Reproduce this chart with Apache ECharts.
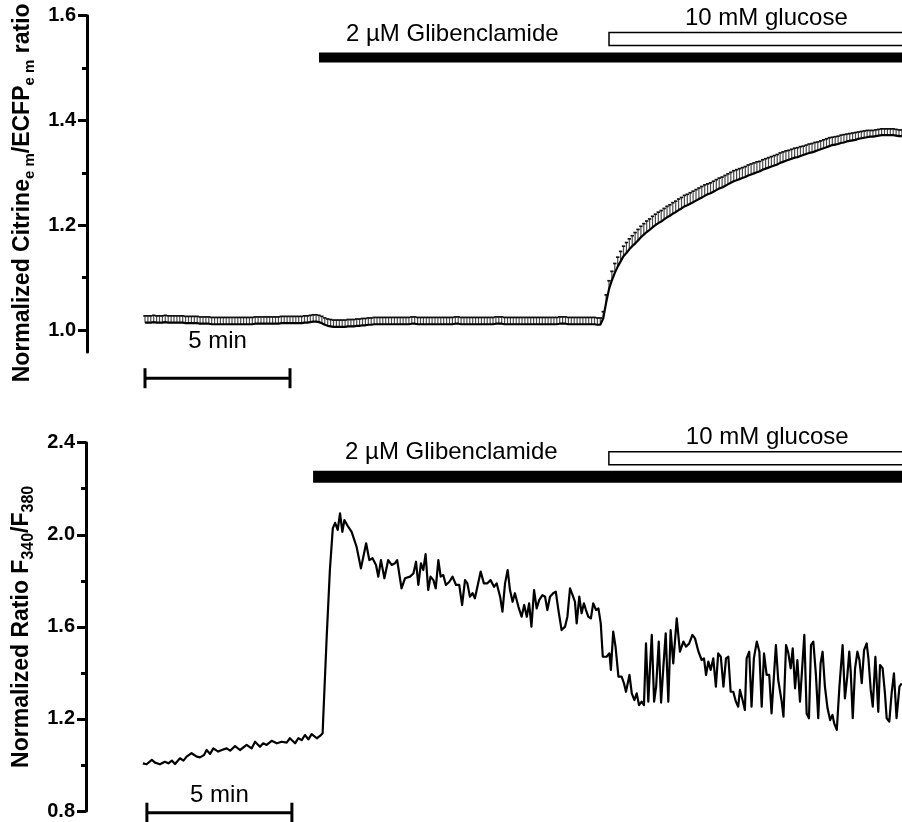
<!DOCTYPE html>
<html>
<head>
<meta charset="utf-8">
<title>Citrine/ECFP and Fura-2 ratio recordings</title>
<script src="https://cdn.jsdelivr.net/npm/echarts@6/dist/echarts.min.js"></script>
<style>
  html, body { margin: 0; padding: 0; background: #fff; }
  #chart { width: 902px; height: 822px; }
</style>
</head>
<body>
<div id="chart"></div>
<script>
// ---------------------------------------------------------------------------
// Data
// ---------------------------------------------------------------------------

// Citrine/ECFP emission ratio, mean of cells, one sample every 0.1 min from t = 0
const SAMPLE_STEP_MIN = 0.1;
const citrineMean = [
  1.014,1.014,1.014,1.015,1.014,1.014,1.014,1.015,1.014,1.014,
  1.014,1.014,1.014,1.014,1.013,1.013,1.013,1.013,1.013,1.012,
  1.012,1.012,1.012,1.011,1.011,1.011,1.011,1.011,1.011,1.011,
  1.011,1.011,1.011,1.011,1.011,1.011,1.011,1.011,1.012,1.012,
  1.012,1.012,1.012,1.012,1.012,1.012,1.012,1.013,1.013,1.013,
  1.013,1.013,1.013,1.013,1.013,1.014,1.014,1.015,1.016,1.016,
  1.015,1.013,1.010,1.008,1.007,1.006,1.006,1.006,1.006,1.006,
  1.007,1.007,1.007,1.008,1.008,1.009,1.009,1.010,1.010,1.011,
  1.011,1.011,1.011,1.011,1.011,1.011,1.011,1.011,1.011,1.011,
  1.011,1.011,1.012,1.012,1.011,1.011,1.011,1.011,1.011,1.011,
  1.011,1.011,1.011,1.011,1.011,1.011,1.011,1.012,1.012,1.011,
  1.011,1.011,1.011,1.011,1.011,1.011,1.011,1.011,1.011,1.011,
  1.011,1.012,1.012,1.012,1.011,1.011,1.011,1.011,1.011,1.011,
  1.011,1.011,1.011,1.011,1.011,1.011,1.011,1.011,1.011,1.011,
  1.011,1.011,1.011,1.012,1.012,1.012,1.011,1.011,1.011,1.011,
  1.011,1.011,1.011,1.011,1.011,1.011,1.010,1.010,1.022,1.052,
  1.078,1.095,1.109,1.121,1.131,1.141,1.147,1.154,1.160,1.165,
  1.171,1.177,1.182,1.187,1.191,1.196,1.200,1.204,1.207,1.211,
  1.215,1.218,1.222,1.225,1.229,1.232,1.236,1.238,1.241,1.244,
  1.247,1.250,1.253,1.256,1.259,1.261,1.264,1.267,1.270,1.272,
  1.275,1.278,1.281,1.284,1.286,1.288,1.290,1.292,1.295,1.297,
  1.299,1.301,1.303,1.306,1.308,1.310,1.312,1.314,1.316,1.319,
  1.321,1.323,1.325,1.327,1.329,1.330,1.332,1.334,1.336,1.338,
  1.339,1.341,1.343,1.345,1.347,1.349,1.351,1.353,1.354,1.355,
  1.357,1.358,1.360,1.361,1.362,1.363,1.365,1.366,1.367,1.368,
  1.369,1.369,1.370,1.371,1.372,1.372,1.372,1.372,1.372,1.371,
  1.370,1.370
];

// SEM of the Citrine/ECFP ratio (plotted upward only)
const citrineSem = [
  0.013,0.013,0.013,0.013,0.013,0.013,0.013,0.013,0.013,0.013,
  0.013,0.013,0.013,0.013,0.013,0.013,0.013,0.013,0.013,0.013,
  0.013,0.013,0.013,0.013,0.013,0.013,0.013,0.013,0.013,0.013,
  0.013,0.013,0.013,0.013,0.013,0.013,0.013,0.013,0.013,0.013,
  0.013,0.013,0.013,0.013,0.013,0.013,0.013,0.013,0.013,0.013,
  0.013,0.013,0.013,0.013,0.013,0.013,0.013,0.013,0.013,0.013,
  0.013,0.013,0.013,0.013,0.013,0.013,0.013,0.013,0.013,0.013,
  0.013,0.013,0.013,0.013,0.013,0.013,0.013,0.013,0.013,0.013,
  0.013,0.013,0.013,0.013,0.013,0.013,0.013,0.013,0.013,0.013,
  0.013,0.013,0.013,0.013,0.013,0.013,0.013,0.013,0.013,0.013,
  0.013,0.013,0.013,0.013,0.013,0.013,0.013,0.013,0.013,0.013,
  0.013,0.013,0.013,0.013,0.013,0.013,0.013,0.013,0.013,0.013,
  0.013,0.013,0.013,0.013,0.013,0.013,0.013,0.013,0.013,0.013,
  0.013,0.013,0.013,0.013,0.013,0.013,0.013,0.013,0.013,0.013,
  0.013,0.013,0.013,0.013,0.013,0.013,0.013,0.013,0.013,0.013,
  0.013,0.013,0.013,0.013,0.013,0.013,0.013,0.013,0.013,0.015,
  0.016,0.017,0.018,0.018,0.019,0.019,0.020,0.020,0.020,0.021,
  0.021,0.021,0.021,0.021,0.021,0.021,0.021,0.021,0.021,0.021,
  0.021,0.021,0.021,0.021,0.021,0.021,0.021,0.021,0.021,0.021,
  0.021,0.021,0.021,0.021,0.020,0.020,0.020,0.020,0.020,0.020,
  0.020,0.020,0.020,0.020,0.020,0.020,0.020,0.020,0.020,0.020,
  0.020,0.020,0.019,0.019,0.019,0.019,0.019,0.019,0.019,0.019,
  0.019,0.019,0.018,0.018,0.018,0.018,0.018,0.017,0.017,0.017,
  0.017,0.017,0.016,0.016,0.016,0.016,0.016,0.015,0.015,0.015,
  0.015,0.015,0.014,0.014,0.014,0.014,0.013,0.013,0.013,0.013,
  0.012,0.012,0.012,0.012,0.012,0.012,0.012,0.012,0.012,0.012,
  0.012,0.012
];

// Fura-2 F340/F380 ratio of a single cell: time (min) and ratio
const furaTimeMin = [
  -0.14,-0.01,0.17,0.28,0.45,0.62,0.74,0.86,0.97,1.14,1.26,1.37,1.54,1.72,1.83,1.97,
  2.06,2.18,2.29,2.46,2.58,2.75,2.87,3.04,3.21,3.44,3.61,3.73,3.90,4.01,4.13,4.30,
  4.48,4.65,4.82,4.93,5.11,5.22,5.34,5.45,5.57,5.68,5.86,5.97,6.06,
  6.08,6.20,6.31,6.41,6.49,6.58,6.66,6.74,6.81,6.94,7.06,7.23,7.38,7.56,7.67,7.78,
  7.90,7.98,8.07,8.19,8.32,8.44,8.55,8.63,8.78,8.90,9.07,9.19,9.28,9.36,9.45,9.53,
  9.61,9.70,9.78,9.88,9.96,10.05,10.13,10.22,10.31,10.43,10.54,10.66,10.77,10.87,10.97,11.05,
  11.14,11.23,11.31,11.41,11.51,11.62,11.74,11.85,11.97,12.06,12.18,12.26,12.35,12.44,12.52,12.61,
  12.69,12.81,12.92,13.01,13.10,13.18,13.26,13.35,13.44,13.53,13.64,13.73,13.81,13.90,14.01,14.10,
  14.19,14.30,14.42,14.50,14.59,14.68,14.76,14.82,14.91,14.99,15.07,15.14,15.22,15.31,15.39,15.49,
  15.57,15.65,
  15.72,15.85,15.95,16.00,16.08,16.16,16.26,16.37,16.45,16.52,16.64,16.72,16.81,16.89,16.97,17.06,
  17.14,17.21,17.29,17.35,17.41,17.49,17.56,17.65,17.73,17.81,17.89,17.98,18.06,18.15,18.27,18.38,
  18.44,18.50,18.59,18.70,18.81,18.90,19.02,19.13,19.21,19.28,19.36,19.44,19.53,19.62,19.70,19.79,
  19.88,19.97,20.05,20.13,20.22,20.31,20.39,20.45,20.54,20.62,20.68,20.77,20.85,20.93,21.03,21.12,
  21.20,21.28,21.37,21.46,21.54,21.69,21.77,21.89,21.95,22.04,22.12,22.20,22.27,22.35,22.43,22.52,
  22.58,22.67,22.75,22.83,22.90,22.98,23.07,23.15,23.23,23.30,23.38,23.47,23.56,23.64,23.70,23.79,
  23.88,23.99,24.07,24.15,24.22,24.27,24.34,24.42,24.50,24.57,24.65,24.73,24.82,24.88,24.96,25.03,
  25.12,25.22,25.28,25.37,25.45,25.51,25.60,25.68,25.76,25.85,25.95,26.03
];
const furaRatio = [
  1.007,1.003,1.022,1.010,1.003,1.014,1.007,1.019,1.004,1.029,1.019,1.036,1.051,1.036,1.033,1.043,
  1.065,1.048,1.072,1.058,1.065,1.072,1.062,1.082,1.065,1.087,1.072,1.101,1.079,1.094,1.087,1.105,
  1.094,1.101,1.097,1.116,1.094,1.116,1.108,1.130,1.111,1.134,1.116,1.126,1.138,
  1.203,1.557,1.847,2.028,2.052,2.021,2.093,2.013,2.064,2.035,2.013,1.948,1.854,1.963,1.890,1.898,
  1.869,1.818,1.890,1.811,1.890,1.869,1.876,1.890,1.767,1.811,1.818,1.832,1.883,1.782,1.876,1.847,
  1.916,1.760,1.818,1.803,1.767,1.890,1.818,1.825,1.782,1.796,1.818,1.782,1.782,1.695,1.803,1.789,
  1.731,1.746,1.724,1.782,1.840,1.789,1.789,1.803,1.774,1.789,1.731,1.666,1.789,1.847,1.760,1.709,
  1.746,1.688,1.644,1.695,1.644,1.702,1.601,1.760,1.680,1.717,1.738,1.731,1.673,1.731,1.746,1.753,
  1.673,1.586,1.601,1.644,1.767,1.738,1.709,1.615,1.731,1.659,1.702,1.673,1.644,1.637,1.702,1.673,
  1.680,1.615,
  1.470,1.470,1.485,1.413,1.579,1.514,1.384,1.384,1.355,1.318,1.391,1.311,1.282,1.311,1.260,1.275,
  1.260,1.528,1.275,1.427,1.565,1.275,1.340,1.536,1.271,1.427,1.572,1.275,1.586,1.441,1.637,1.492,
  1.499,1.536,1.514,1.528,1.565,1.550,1.492,1.456,1.463,1.391,1.449,1.413,1.463,1.340,1.485,1.470,
  1.340,1.463,1.470,1.318,1.318,1.275,1.253,1.326,1.282,1.239,1.463,1.492,1.253,1.463,1.536,1.492,
  1.253,1.485,1.391,1.391,1.224,1.521,1.369,1.275,1.210,1.521,1.485,1.420,1.507,1.333,1.456,1.275,
  1.275,1.565,1.224,1.203,1.521,1.536,1.391,1.203,1.441,1.492,1.340,1.246,1.195,1.217,1.181,1.152,
  1.340,1.521,1.289,1.384,1.492,1.405,1.203,1.420,1.492,1.456,1.355,1.499,1.528,1.463,1.326,1.253,
  1.470,1.231,1.434,1.420,1.311,1.203,1.188,1.311,1.398,1.203,1.340,1.355
];

// Treatments (applied until the end of the recording)
const treatmentLabels = ['2 \u00b5M Glibenclamide', '10 mM glucose'];
const citrineTreatmentStartMin = [6.0, 16.0];
const furaTreatmentStartMin = [5.73, 15.93];

// Time scale bar length (min)
const scaleBarMin = 5;

// Y axis ticks
const citrineMajorTicks = [1.0, 1.2, 1.4, 1.6];
const citrineMinorTicks = [1.1, 1.3, 1.5];
const furaMajorTicks = [0.8, 1.2, 1.6, 2.0, 2.4];
const furaMinorTicks = [1.0, 1.4, 1.8, 2.2];

// ---------------------------------------------------------------------------
// Chart
// ---------------------------------------------------------------------------
const FONT = '"Liberation Sans", Arial, Helvetica, sans-serif';
const chart = echarts.init(document.getElementById('chart'), null, { renderer: 'canvas' });

const citrineRows = citrineMean.map((m, i) => [+(i * SAMPLE_STEP_MIN).toFixed(2), m, citrineSem[i]]);
const furaRows = furaTimeMin.map((t, i) => [t, furaRatio[i]]);

function mainYAxis(gridIndex, min, max, ticks, name, rich, nameGap, namePadding) {
  return {
    type: 'value', gridIndex, position: 'left', offset: 0,
    min, max,
    axisLine: { show: true, onZero: false, lineStyle: { color: '#000', width: 3 } },
    axisTick: { show: true, inside: false, length: 9, customValues: ticks,
                lineStyle: { color: '#000', width: 3 } },
    axisLabel: { show: true, customValues: ticks, margin: 11,
                 formatter: v => v.toFixed(1),
                 color: '#000', fontFamily: FONT, fontWeight: 'bold', fontSize: 20 },
    splitLine: { show: false },
    name, nameLocation: 'middle', nameRotate: 90, nameGap,
    nameTextStyle: { rich, padding: namePadding }
  };
}
function minorYAxis(gridIndex, min, max, ticks) {
  return {
    type: 'value', gridIndex, position: 'left', offset: 0,
    min, max,
    axisLine: { show: false, onZero: false },
    axisTick: { show: true, length: 5, customValues: ticks,
                lineStyle: { color: '#000', width: 3 } },
    axisLabel: { show: false },
    splitLine: { show: false }
  };
}

const titleRich = (mainSize, subSize) => ({
  m: { fontFamily: FONT, fontWeight: 'bold', fontSize: mainSize, color: '#000', lineHeight: 30 },
  s: { fontFamily: FONT, fontWeight: 'bold', fontSize: subSize, color: '#000', lineHeight: 30,
       verticalAlign: 'bottom' }
});

// Upward SEM bars with a short cap
function semBarRender(params, api) {
  const t = api.value(0), m = api.value(1), e = api.value(2);
  const base = api.coord([t, m]);
  const tip = api.coord([t, m + e]);
  return {
    type: 'group',
    children: [
      { type: 'line', shape: { x1: base[0], y1: base[1], x2: tip[0], y2: tip[1] },
        style: { stroke: '#4a4a4a', lineWidth: 1.2 } },
      { type: 'line', shape: { x1: tip[0] - 1.7, y1: tip[1], x2: tip[0] + 1.7, y2: tip[1] },
        style: { stroke: '#111', lineWidth: 1.7 } }
    ]
  };
}

// Treatment bars: solid for glibenclamide, open for glucose
function treatmentSeries(axisIndex, yAxisIndex, starts, layout) {
  return {
    type: 'custom', xAxisIndex: axisIndex, yAxisIndex, clip: false, silent: true, z: 5,
    data: starts.map((s, i) => [s, i]),
    encode: { x: 0 },
    renderItem(params, api) {
      const i = params.dataIndex;
      const spec = layout[i];
      const cs = params.coordSys;
      const p = api.coord([api.value(0), spec.y]);
      const right = cs.x + cs.width + 20;
      const top = p[1] - spec.h / 2;
      const rect = {
        type: 'rect',
        shape: { x: p[0], y: top, width: right - p[0], height: spec.h },
        style: spec.open ? { fill: '#fff', stroke: '#000', lineWidth: 1.5 } : { fill: '#000' }
      };
      const label = {
        type: 'text',
        style: {
          text: treatmentLabels[i], x: p[0] + spec.dx, y: top - spec.gap - 8,
          fontFamily: FONT, fontSize: 24, fill: '#000',
          align: 'left', verticalAlign: 'middle'
        }
      };
      return { type: 'group', children: [rect, label] };
    }
  };
}

// Time scale bar with end caps and label
function scaleBarSeries(axisIndex, yAxisIndex, yValue, textGap) {
  return {
    type: 'custom', xAxisIndex: axisIndex, yAxisIndex, clip: false, silent: true, z: 5,
    data: [[0, scaleBarMin]],
    encode: { x: 0 },
    renderItem(params, api) {
      const a = api.coord([api.value(0), yValue]);
      const b = api.coord([api.value(0) + api.value(1), yValue]);
      const capStyle = { stroke: '#000', lineWidth: 3 };
      return {
        type: 'group',
        children: [
          { type: 'line', shape: { x1: a[0], y1: a[1], x2: b[0], y2: b[1] }, style: capStyle },
          { type: 'line', shape: { x1: a[0], y1: a[1] - 10, x2: a[0], y2: a[1] + 10 }, style: capStyle },
          { type: 'line', shape: { x1: b[0], y1: b[1] - 10, x2: b[0], y2: b[1] + 10 }, style: capStyle },
          { type: 'text', style: {
              text: api.value(1) + ' min', x: (a[0] + b[0]) / 2, y: a[1] - textGap - 8,
              fontFamily: FONT, fontSize: 24, fill: '#000', align: 'center', verticalAlign: 'middle' } }
        ]
      };
    }
  };
}

const option = {
  animation: false,
  backgroundColor: '#fff',
  grid: [
    { left: 87, right: 0, top: 15.7, height: 336.3, containLabel: false },
    { left: 86, right: 0, top: 442.7, height: 368.3, containLabel: false }
  ],
  xAxis: [
    { type: 'value', gridIndex: 0, min: -2, max: 26.103, show: false },
    { type: 'value', gridIndex: 1, min: -2.1, max: 26.038, show: false }
  ],
  yAxis: [
    mainYAxis(0, 0.958, 1.6, citrineMajorTicks,
      '{m|Normalized Citrine}{s|e m}{m|/ECFP}{s|e m}{m| ratio}', titleRich(23, 15), 48, [0, 18, 0, 0]),
    minorYAxis(0, 0.958, 1.6, citrineMinorTicks),
    mainYAxis(1, 0.8, 2.4, furaMajorTicks,
      '{m|Normalized Ratio F}{s|340}{m|/F}{s|380}', titleRich(23, 16), 47, [0, 0, 0, 0]),
    minorYAxis(1, 0.8, 2.4, furaMinorTicks)
  ],
  series: [
    {
      type: 'custom', name: 'SEM', xAxisIndex: 0, yAxisIndex: 0, z: 2, silent: true,
      data: citrineRows, encode: { x: 0, y: 1 }, renderItem: semBarRender
    },
    {
      type: 'line', name: 'Citrine/ECFP', xAxisIndex: 0, yAxisIndex: 0, z: 3, silent: true,
      data: citrineRows.map(r => [r[0], r[1]]),
      showSymbol: false, symbol: 'none',
      lineStyle: { color: '#000', width: 2.2 }
    },
    {
      type: 'line', name: 'F340/F380', xAxisIndex: 1, yAxisIndex: 2, z: 3, silent: true,
      data: furaRows, showSymbol: false, symbol: 'none',
      lineStyle: { color: '#000', width: 2.2, join: 'round' }
    },
    treatmentSeries(0, 0, citrineTreatmentStartMin, [
      { y: 1.520, h: 10, dx: 27, gap: 10, open: false },
      { y: 1.5556, h: 13, dx: 76, gap: 6, open: true }
    ]),
    treatmentSeries(1, 2, furaTreatmentStartMin, [
      { y: 2.252, h: 12, dx: 32, gap: 10.5, open: false },
      { y: 2.332, h: 13, dx: 77, gap: 6.5, open: true }
    ]),
    scaleBarSeries(0, 0, 0.908, 29),
    scaleBarSeries(1, 2, 0.7926, 9.7)
  ]
};

chart.setOption(option);
</script>
</body>
</html>
